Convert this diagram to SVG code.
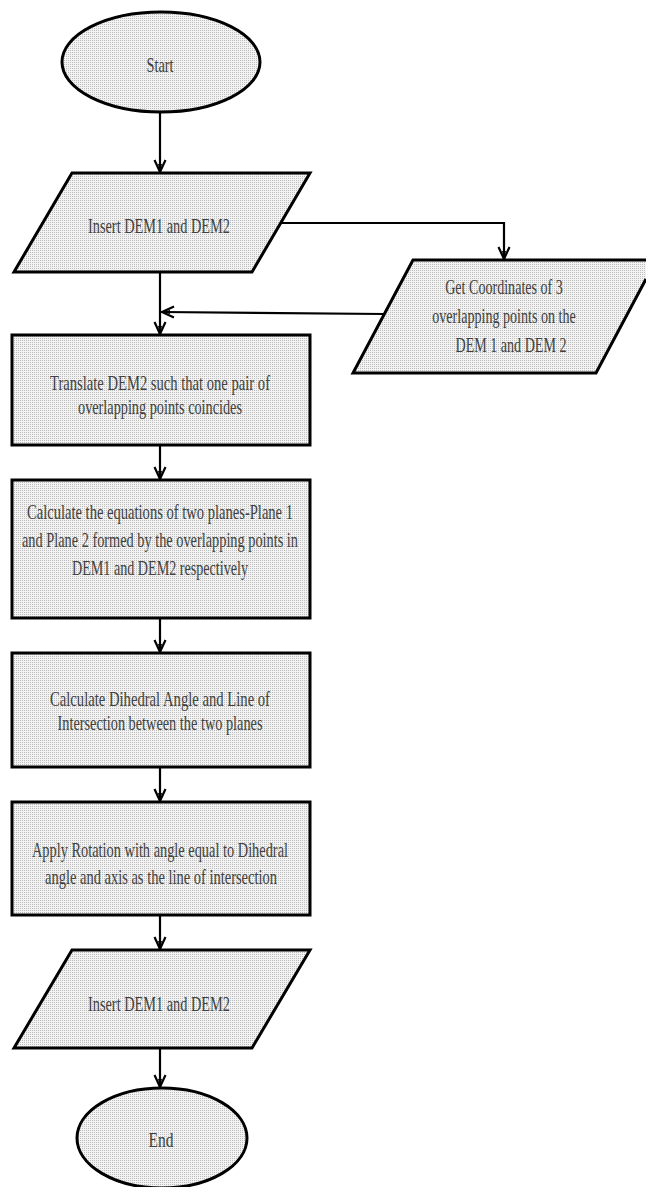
<svg xmlns="http://www.w3.org/2000/svg" width="646" height="1187" viewBox="0 0 646 1187">
<defs>
  <pattern id="dots" width="2" height="2" patternUnits="userSpaceOnUse">
    <rect width="2" height="2" fill="#f3f3f3"/>
    <rect width="1" height="1" fill="#bdbdbd"/>
  </pattern>
  <marker id="arr" viewBox="-1 -7 14 14" refX="12" refY="0" markerWidth="14" markerHeight="14" markerUnits="userSpaceOnUse" orient="auto">
    <path d="M0,-5.5 L12,0 L0,5.5" fill="none" stroke="#000" stroke-width="2.2"/>
    <path d="M4,-2 L12,0 L4,2 Z" fill="#000"/>
  </marker>
</defs>
<style>
  .shape { fill: url(#dots); stroke: #000; stroke-width: 3; stroke-linejoin: miter; }
  .fillonly { fill: url(#dots); stroke: none; }
  .edge { fill: none; stroke: #000; stroke-width: 3; stroke-linejoin: miter; }
  .conn { fill: none; stroke: #000; stroke-width: 2.2; }
  text { font-family: "Liberation Serif", "Times New Roman", serif; font-size: 22px; fill: #404040; text-anchor: middle; dominant-baseline: central; }
</style>

<g id="connectors">
  <path class="conn" d="M160,112 L160,172" marker-end="url(#arr)"/>
  <path class="conn" d="M160,272 L160,334" marker-end="url(#arr)"/>
  <path class="conn" d="M282,223 L504,223 L504,259" marker-end="url(#arr)"/>
  <path class="conn" d="M384,314 L162,312" marker-end="url(#arr)"/>
  <path class="conn" d="M160,445 L160,479" marker-end="url(#arr)"/>
  <path class="conn" d="M160,618 L160,652" marker-end="url(#arr)"/>
  <path class="conn" d="M160,767 L160,801" marker-end="url(#arr)"/>
  <path class="conn" d="M160,915 L160,949" marker-end="url(#arr)"/>
  <path class="conn" d="M160,1048 L160,1087" marker-end="url(#arr)"/>
</g>

<g id="start">
  <ellipse class="shape" cx="161" cy="62" rx="99" ry="50"/>
  <text x="160" y="64" textLength="27" lengthAdjust="spacingAndGlyphs">Start</text>
</g>

<g id="insert1">
  <polygon class="shape" points="72,173 310,173 252,272 14,272"/>
  <text x="159" y="225" textLength="142" lengthAdjust="spacingAndGlyphs">Insert DEM1 and DEM2</text>
</g>

<g id="getcoords">
  <polygon class="fillonly" points="413,260 646,260 646,279 596,373 353,373"/>
  <polyline class="edge" points="646,260 413,260 353,373 596,373 646,279"/>
  <text transform="translate(504,287) scale(0.64,1)" x="0" y="0">Get Coordinates of 3</text>
  <text transform="translate(504,316) scale(0.64,1)" x="0" y="0">overlapping points on the</text>
  <text transform="translate(511,345) scale(0.64,1)" x="0" y="0">DEM 1 and DEM 2</text>
</g>

<g id="translate">
  <rect class="shape" x="12" y="335" width="298" height="110"/>
  <text x="160" y="382" textLength="220" lengthAdjust="spacingAndGlyphs">Translate DEM2  such that one pair of</text>
  <text x="160" y="406" textLength="164" lengthAdjust="spacingAndGlyphs">overlapping points coincides</text>
</g>

<g id="equations">
  <rect class="shape" x="12" y="480" width="298" height="138"/>
  <text x="160" y="511" textLength="266" lengthAdjust="spacingAndGlyphs">Calculate the  equations of two planes-Plane 1</text>
  <text x="160" y="539" textLength="276" lengthAdjust="spacingAndGlyphs">and Plane 2 formed by the overlapping  points in</text>
  <text x="160" y="567" textLength="176" lengthAdjust="spacingAndGlyphs">DEM1 and DEM2 respectively</text>
</g>

<g id="dihedral">
  <rect class="shape" x="12" y="653" width="298" height="114"/>
  <text x="160" y="698" textLength="220" lengthAdjust="spacingAndGlyphs">Calculate Dihedral Angle  and Line of</text>
  <text x="160" y="722" textLength="205" lengthAdjust="spacingAndGlyphs">Intersection between the two planes</text>
</g>

<g id="rotation">
  <rect class="shape" x="12" y="802" width="298" height="113"/>
  <text x="160" y="849" textLength="256" lengthAdjust="spacingAndGlyphs">Apply Rotation with angle equal to Dihedral</text>
  <text x="161" y="876" textLength="232" lengthAdjust="spacingAndGlyphs">angle and axis as the line of intersection</text>
</g>

<g id="insert2">
  <polygon class="shape" points="72,950 310,950 252,1048 14,1048"/>
  <text x="159" y="1003" textLength="142" lengthAdjust="spacingAndGlyphs">Insert DEM1 and DEM2</text>
</g>

<g id="end">
  <ellipse class="shape" cx="162" cy="1138" rx="85" ry="50"/>
  <text x="161" y="1139" textLength="25" lengthAdjust="spacingAndGlyphs">End</text>
</g>
</svg>
